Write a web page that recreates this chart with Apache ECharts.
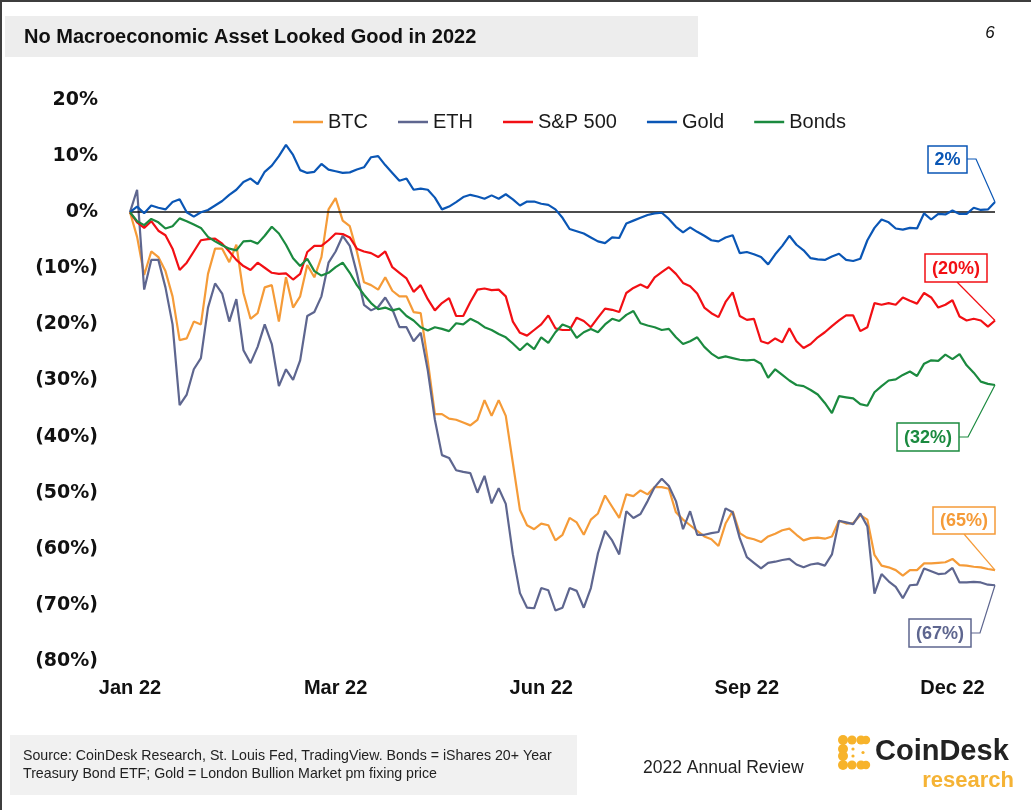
<!DOCTYPE html>
<html><head><meta charset="utf-8">
<script src="https://cdn.jsdelivr.net/npm/echarts@6/dist/echarts.min.js"></script>
<style>html,body{margin:0;padding:0;background:#fff;}#c{width:1031px;height:810px;}</style>
</head><body><div id="c"></div>
<script>
// ---- data ----
const tickLabels = ['Jan 22', 'Mar 22', 'Jun 22', 'Sep 22', 'Dec 22'];
const tickIndex = [0, 29, 58, 87, 116];
const seriesNames = ['BTC', 'ETH', 'S&P 500', 'Gold', 'Bonds'];
const endLabels = ['(65%)', '(67%)', '(20%)', '2%', '(32%)'];

const btc = [
  0,-4.4,-11.2,-7.0,-8.0,-10.5,-15.0,-22.8,-22.5,-19.5,
  -20.0,-11.0,-6.5,-6.5,-8.9,-5.8,-14.4,-19.0,-18.0,-13.4,
  -13.0,-19.5,-11.6,-17.0,-15.0,-9.4,-11.6,-8.0,0.5,2.5,
  -1.5,-2.5,-7.0,-12.5,-13.0,-13.8,-11.6,-14.0,-15.0,-15.0,
  -17.8,-18.0,-26.5,-36.0,-36.0,-36.8,-37.0,-37.5,-38.0,-37.0,
  -33.5,-36.3,-33.5,-36.3,-44.7,-53.1,-55.8,-56.5,-55.5,-55.8,
  -58.5,-57.5,-54.5,-55.3,-57.5,-54.8,-53.7,-50.5,-52.5,-54.5,
  -50.3,-50.6,-49.6,-50.3,-49.0,-49.0,-49.3,-53.5,-54.8,-55.8,
  -56.8,-57.8,-58.3,-59.5,-55.5,-53.3,-57.2,-58.0,-58.3,-58.8,
  -57.8,-57.3,-56.7,-56.4,-57.5,-58.5,-58.1,-58.0,-58.2,-57.8,
  -55.0,-55.5,-55.4,-54.0,-54.8,-61.1,-63.0,-63.3,-63.8,-64.8,
  -63.8,-63.8,-62.6,-62.6,-62.5,-62.4,-61.8,-62.9,-63.0,-63.2,
  -63.3,-63.6,-63.8
];
const eth = [
  0,4.0,-13.8,-8.5,-8.5,-13.4,-20.0,-34.4,-32.5,-28.0,
  -26.0,-17.0,-12.7,-14.5,-19.5,-15.5,-24.6,-26.9,-24.0,-20.0,
  -23.5,-31.0,-28.0,-29.9,-26.4,-18.5,-17.8,-15.0,-9.0,-7.0,
  -4.2,-6.0,-10.9,-16.5,-17.5,-16.9,-15.2,-17.3,-20.5,-20.5,
  -23.0,-21.5,-28.2,-37.0,-43.3,-43.8,-46.0,-46.3,-46.5,-50.0,
  -47.0,-51.9,-49.2,-52.0,-61.0,-67.9,-70.5,-70.6,-67.0,-67.4,
  -71.0,-70.5,-67.0,-67.5,-70.5,-67.0,-60.8,-56.8,-58.5,-61.0,
  -53.3,-54.5,-53.8,-51.5,-49.0,-47.5,-48.8,-51.5,-56.5,-53.3,
  -57.5,-57.5,-57.2,-57.0,-52.8,-53.5,-58.1,-61.5,-62.5,-63.5,
  -62.5,-62.3,-62.0,-61.8,-62.8,-63.3,-62.8,-62.6,-63.0,-61.0,
  -55.0,-55.3,-55.6,-53.7,-56.0,-68.0,-64.5,-65.8,-66.8,-68.8,
  -66.5,-66.4,-63.5,-64.0,-64.5,-64.4,-63.4,-66.0,-66.0,-65.9,
  -66.0,-66.4,-66.5
];
const sp500 = [
  0,-1.8,-2.8,-1.6,-3.3,-4.1,-6.5,-10.3,-9.0,-7.0,
  -5.0,-4.8,-4.7,-5.6,-7.0,-8.5,-9.6,-10.3,-9.0,-9.9,
  -10.8,-11.0,-10.9,-12.0,-11.0,-7.1,-6.0,-6.0,-5.0,-3.8,
  -3.9,-4.5,-6.5,-7.0,-7.3,-8.0,-7.0,-9.8,-10.8,-11.8,
  -14.2,-13.0,-15.5,-17.5,-16.2,-15.3,-18.5,-18.5,-16.0,-13.8,
  -13.6,-13.9,-13.8,-15.0,-19.5,-21.5,-22.0,-21.0,-20.0,-18.4,
  -20.7,-21.0,-21.0,-18.8,-19.4,-20.5,-18.8,-17.2,-17.4,-17.8,
  -14.4,-13.5,-12.9,-13.5,-11.6,-10.7,-9.8,-11.0,-12.6,-13.2,
  -14.5,-17.0,-18.0,-18.7,-16.0,-14.3,-18.5,-19.2,-19.0,-23.0,
  -23.4,-22.5,-23.2,-20.7,-23.0,-24.2,-23.5,-22.3,-21.4,-20.3,
  -19.3,-18.4,-18.4,-21.2,-20.5,-16.2,-16.5,-16.2,-16.5,-15.2,
  -15.8,-16.3,-14.4,-15.2,-17.0,-16.5,-15.7,-18.6,-19.3,-19.0,
  -19.3,-20.4,-19.3
];
const gold = [
  0,1.0,-0.2,1.2,0.8,0.5,1.8,2.3,0.0,-0.8,
  0,0.4,1.2,2.0,3.1,4.0,5.4,6.0,5.0,7.2,
  8.3,10.0,12.0,10.2,7.5,7.0,7.2,8.6,7.6,7.3,
  7.0,7.1,7.6,8.0,9.8,10.0,8.4,7.0,5.6,6.0,
  4.0,4.2,4.0,2.6,0.5,1.0,1.8,2.7,3.1,2.8,
  2.4,3.0,2.4,3.2,2.3,1.2,1.9,1.9,1.5,1.3,
  0.5,-1.0,-3.0,-3.4,-3.8,-4.5,-5.2,-5.5,-4.5,-4.6,
  -2.0,-1.5,-1.0,-0.5,-0.2,-0.1,-1.2,-2.6,-3.6,-2.7,
  -3.5,-4.2,-5.0,-5.2,-4.5,-4.1,-7.3,-7.1,-7.5,-8.0,
  -9.3,-7.5,-6.0,-4.2,-5.8,-6.8,-8.2,-8.4,-8.5,-7.9,
  -7.4,-8.5,-8.7,-8.3,-5.0,-2.8,-1.3,-1.8,-2.9,-3.1,
  -2.8,-2.9,-0.2,-1.3,-0.3,-0.4,0.3,-0.3,-0.3,0.8,
  0.4,0.5,1.8
];
const bonds = [
  0,-1.6,-2.3,-1.2,-1.8,-2.9,-2.5,-1.1,-1.6,-2.2,
  -2.8,-4.4,-5.2,-5.9,-6.5,-6.8,-5.2,-5.1,-5.6,-4.2,
  -2.6,-3.8,-5.8,-8.2,-9.6,-8.3,-10.5,-11.3,-10.8,-9.8,
  -9.0,-10.8,-13.0,-14.7,-16.2,-17.3,-17.0,-17.5,-17.2,-18.5,
  -19.3,-20.5,-21.1,-20.5,-20.8,-21.2,-19.8,-20.0,-19.0,-19.6,
  -20.5,-21.0,-21.7,-22.3,-23.4,-24.6,-23.4,-24.4,-22.3,-23.3,
  -21.4,-20.0,-20.5,-22.4,-21.4,-20.8,-21.4,-20.0,-19.0,-19.4,
  -18.3,-17.6,-19.8,-20.2,-20.5,-21.0,-20.8,-22.3,-23.5,-23.0,
  -22.3,-24.0,-25.2,-26.0,-25.7,-26.0,-26.3,-26.4,-26.3,-27.0,
  -29.5,-28.0,-29.0,-30.0,-30.8,-31.0,-31.7,-32.5,-34.0,-35.8,
  -32.8,-33.0,-33.2,-34.2,-34.5,-32.1,-31.0,-30.0,-29.8,-29.0,
  -28.4,-29.2,-27.0,-26.4,-26.5,-25.4,-26.2,-25.3,-27.3,-28.6,
  -30.2,-30.6,-30.8
];

// ---- styling ----
const colors = ['#F59B38', '#5E668F', '#F20F14', '#0A56B5', '#1B8A3F'];
const values = [btc, eth, sp500, gold, bonds];
const categories = btc.map((_, i) => 'd' + i);
const boxLayout = [
  {box: [933, 507, 62, 27], from: [964, 534], elbow: null},
  {box: [909, 619, 62, 28], from: [971, 633], elbow: [980, 633]},
  {box: [925, 254, 62, 28], from: [957, 282], elbow: null},
  {box: [928, 146, 39, 27], from: [967, 159], elbow: [976, 159]},
  {box: [897, 423, 62, 28], from: [959, 437], elbow: [968, 437]}
];

const chart = echarts.init(document.getElementById('c'), null, {renderer: 'canvas'});
const FONT = '"Liberation Sans", Arial, sans-serif';

const series = values.map((d, k) => ({
  name: seriesNames[k],
  type: 'line',
  data: d,
  symbol: 'none',
  lineStyle: {width: 2.2, color: colors[k]},
  itemStyle: {color: colors[k]},
  z: 2 + k,
  markLine: k === 0 ? {
    silent: true, symbol: 'none', animation: false,
    label: {show: false},
    lineStyle: {color: '#111', width: 1.5, type: 'solid'},
    data: [{yAxis: 0}]
  } : undefined
}));

const LOGO = '#F7B32B';
const staticGraphics = [
  {type: 'rect', shape: {x: 0, y: 0, width: 1031, height: 2}, style: {fill: '#3d3d3d'}, silent: true},
  {type: 'rect', shape: {x: 0, y: 0, width: 2, height: 810}, style: {fill: '#3d3d3d'}, silent: true},
  {type: 'rect', shape: {x: 5, y: 16, width: 693, height: 41}, style: {fill: '#ededed'}, silent: true},
  {type: 'text', x: 24, y: 37, style: {text: 'No Macroeconomic Asset Looked Good in 2022', font: 'bold 20px ' + FONT, fill: '#111', textVerticalAlign: 'middle'}},
  {type: 'text', x: 990, y: 33, style: {text: '6', font: 'italic 17px ' + FONT, fill: '#111', textAlign: 'center', textVerticalAlign: 'middle'}},
  {type: 'rect', shape: {x: 10, y: 735, width: 567, height: 60}, style: {fill: '#f1f1f1'}, silent: true},
  {type: 'text', x: 23, y: 756, style: {text: 'Source: CoinDesk Research, St. Louis Fed, TradingView. Bonds = iShares 20+ Year', font: '14.2px ' + FONT, fill: '#222', textVerticalAlign: 'middle'}},
  {type: 'text', x: 23, y: 774, style: {text: 'Treasury Bond ETF; Gold = London Bullion Market pm fixing price', font: '14.2px ' + FONT, fill: '#222', textVerticalAlign: 'middle'}},
  {type: 'text', x: 643, y: 768, style: {text: '2022 Annual Review', font: '17.5px ' + FONT, fill: '#222', textVerticalAlign: 'middle'}},
  {type: 'text', x: 875, y: 752, style: {text: 'CoinDesk', font: 'bold 29px ' + FONT, fill: '#222', textVerticalAlign: 'middle'}},
  {type: 'text', x: 1014, y: 781, style: {text: 'research', font: 'bold 22px ' + FONT, fill: '#F5B335', textAlign: 'right', textVerticalAlign: 'middle'}}
];
// logo: bracket made of dots
const logoDots = [
  [843,740,5],[852,740,4.6],[861,740,4.6],[866,740,4.2],
  [843,749,5],[843,756,5],
  [843,765,5],[852,765,4.6],[861,765,4.6],[866,765,4.2],
  [853,749,1.6],[853,756,1.6],[863,752.5,1.6]
];
logoDots.forEach(p => staticGraphics.push({type: 'circle', shape: {cx: p[0], cy: p[1], r: p[2]}, style: {fill: LOGO}, silent: true}));

const option = {
  animation: false,
  backgroundColor: '#ffffff',
  grid: {left: 130, right: 36, top: 100, bottom: 149, containLabel: false},
  legend: {
    data: seriesNames, left: 288, top: 107, icon: 'rect', itemWidth: 30, itemHeight: 2.5, itemGap: 30,
    textStyle: {fontSize: 20, color: '#1a1a1a', fontFamily: FONT}
  },
  xAxis: {
    type: 'category', data: categories, boundaryGap: false,
    axisLine: {show: false}, axisTick: {show: false}, splitLine: {show: false},
    axisLabel: {
      interval: (idx) => tickIndex.indexOf(idx) >= 0,
      formatter: (v, idx) => { const j = tickIndex.indexOf(idx); return j >= 0 ? tickLabels[j] : ''; },
      fontSize: 20, fontWeight: 'bold', color: '#111', fontFamily: FONT, margin: 17
    }
  },
  yAxis: {
    type: 'value', min: -80, max: 20, interval: 10,
    axisLine: {show: false}, axisTick: {show: false}, splitLine: {show: false},
    axisLabel: {
      formatter: (v) => v < 0 ? '(' + Math.abs(v) + '%)' : v + '%',
      fontSize: 19, fontWeight: 'bold', color: '#111', fontFamily: '"DejaVu Sans", sans-serif', margin: 32
    }
  },
  series: series,
  graphic: staticGraphics
};
chart.setOption(option);

// end-value annotations, anchored to the library's own pixel mapping
const last = categories.length - 1;
const annos = [];
values.forEach((d, k) => {
  const end = chart.convertToPixel({gridIndex: 0}, [last, d[last]]);
  const L = boxLayout[k];
  const pts = [L.from];
  if (L.elbow) pts.push(L.elbow);
  pts.push(end);
  annos.push({type: 'polyline', shape: {points: pts}, style: {stroke: colors[k], lineWidth: 1.2, fill: null}, z: 50, silent: true});
  annos.push({type: 'rect', shape: {x: L.box[0], y: L.box[1], width: L.box[2], height: L.box[3]}, style: {fill: '#fff', stroke: colors[k], lineWidth: 1.5}, z: 51, silent: true});
  annos.push({type: 'text', x: L.box[0] + L.box[2] / 2, y: L.box[1] + L.box[3] / 2 + 1, style: {text: endLabels[k], font: 'bold 18px ' + FONT, fill: colors[k], textAlign: 'center', textVerticalAlign: 'middle'}, z: 52, silent: true});
});
chart.setOption({graphic: staticGraphics.concat(annos)});
</script>
</body></html>
